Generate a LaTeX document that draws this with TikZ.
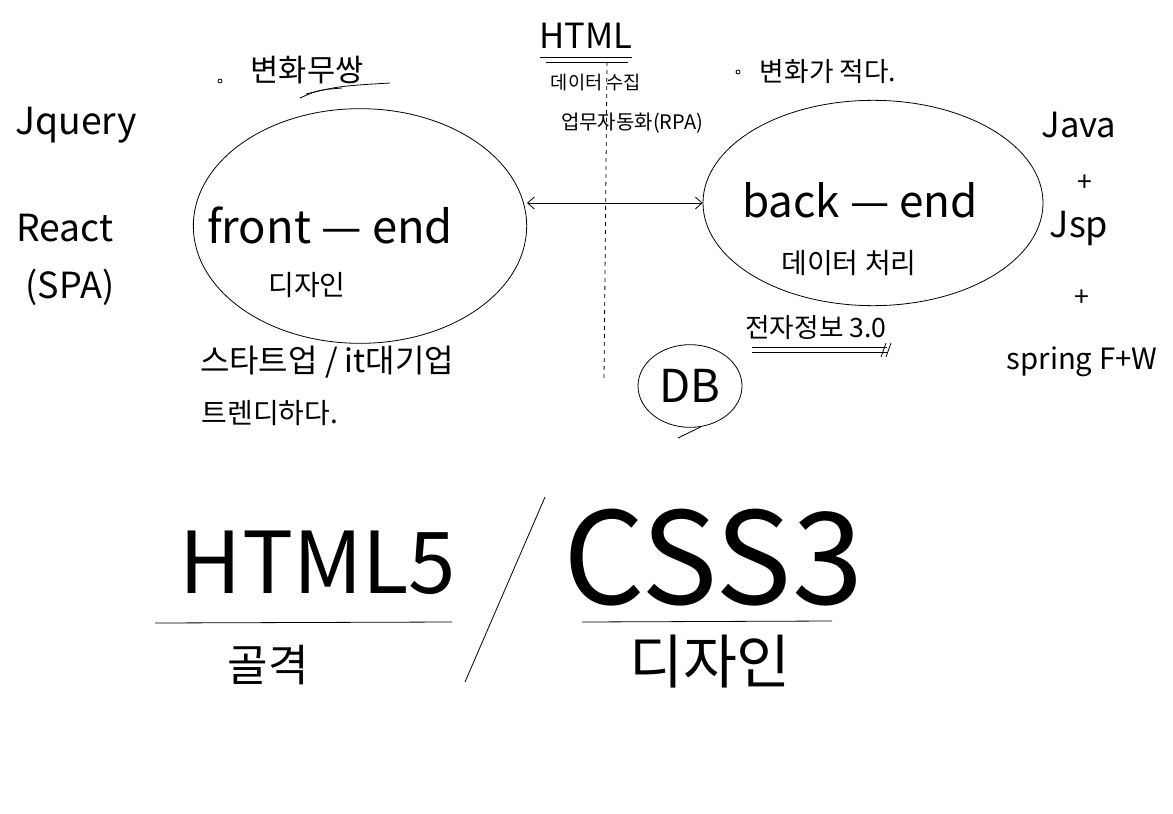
\documentclass[tikz,border=0pt]{standalone}
\usepackage{fontspec}
\setmainfont{Noto Sans CJK KR}
\usetikzlibrary{positioning,shapes.geometric,arrows.meta}

\begin{document}
\begin{tikzpicture}
  [x=0.75pt, y=-0.75pt, line width=0.6pt,
   every node/.style={inner sep=0pt},
   blob/.style={ellipse, draw},
   note/.style={font=\fontsize{#1}{#1}\selectfont},
   bullet/.style={circle, draw, minimum size=3pt},
   >={Straight Barb[length=5pt,width=9pt]}]
  \useasboundingbox (0,0) rectangle (1173,813);
  % Left: front-end frameworks
  \node[note=28] (jq)    at (76,125) {Jquery};
  \node[note=28] (react) at (65,228) {React};
  \node[note=27] (spa)   at (70,287) {(SPA)};
  % Front-end blob and its notes
  \node[blob, minimum width=250pt, minimum height=176pt] (front) at (360,226) {};
  \node[note=34] (fe)    at (330,225) {front — end};
  \node[note=21] (fdes)  at (307,285) {디자인};
  \node[bullet]  (b1)    at (220,81) {};
  \node[note=23] (chg1)  at (307,70) {변화무쌍};
  \draw (300,98) .. controls (318,90) .. (342,88);
  \draw (306,94) .. controls (340,86) .. (390,83);
  \node[note=24] (corp)  at (327,362) {스타트업 / it대기업};
  \node[note=21] (trend) at (270,413) {트렌디하다.};
  % Back-end blob and its notes
  \node[blob, minimum width=255pt, minimum height=154pt] (back) at (873,203) {};
  \node[note=33] (be)    at (860,200) {back — end};
  \node[note=21] (data)  at (849,263) {데이터 처리};
  \node[bullet]  (b2)    at (738,72) {};
  \node[note=20] (chg2)  at (828,72) {변화가 적다.};
  % Middle: HTML and the dividing line
  \node[note=26] (html)    at (586,36) {HTML};
  \draw (540,57) -- (632,57) (546,62) -- (628,62);
  \coordinate (top) at (607,62);
  \coordinate (bot) at (604,378);
  \draw[dashed] (top) -- (bot);
  \node[note=14] (collect) at (596,83) {데이터 수집};
  \node[note=15] (rpa)     at (632,123) {업무자동화(RPA)};
  \draw[<->] (front.east |- back.west) -- (back.west);
  % Right: back-end stack
  \node[note=26] (java)   at (1079,125) {Java};
  \node[note=20] (p1)     at (1085,183) {+};
  \node[note=27] (jsp)    at (1079,228) {Jsp};
  \node[note=20] (p2)     at (1082,298) {+};
  \node[note=22] (spring) at (1082,362) {spring F+W};
  % DB
  \node[note=20] (egov) at (816,328) {전자정보 3.0};
  \draw (752,347) -- (887,347) (752,352) -- (887,352);
  \draw (886,343) -- (881,357) (891,343) -- (886,357);
  \node[blob, minimum width=78pt, minimum height=62pt, note=34] (db) at (690,386) {DB};
  \coordinate (tail) at (678,438);
  \draw (db.-75) -- (tail);
  % Bottom: HTML5 / CSS3
  \node[note=64] (h5) at (318,563) {HTML5};
  \node[note=96] (c3) at (713,558) {CSS3};
  \draw (545,497) -- (465,682);
  \draw (155,623) -- (452,622) (582,622) -- (832,621);
  \node[note=33] (frame) at (268,665) {골격};
  \node[note=44] (cdes)  at (710,662) {디자인};
\end{tikzpicture}
\end{document}
